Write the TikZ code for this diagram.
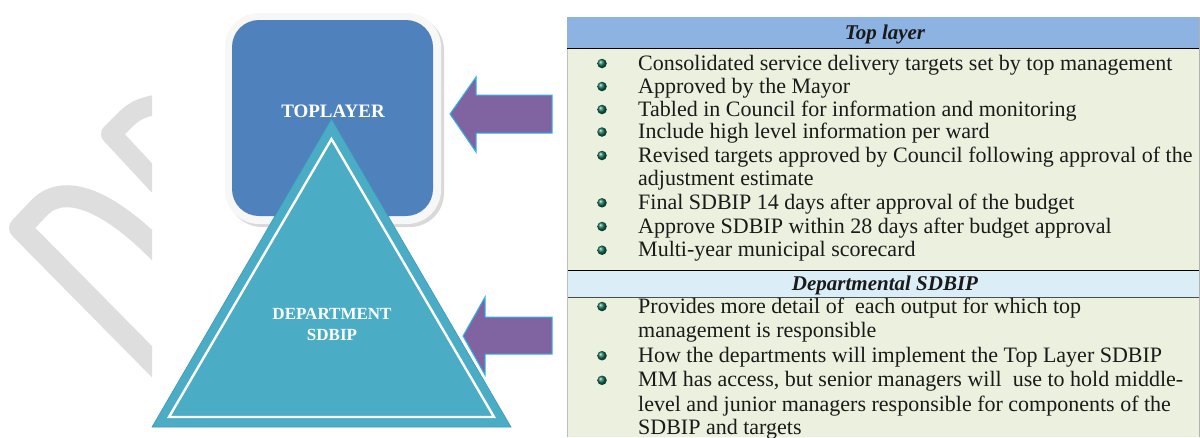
\documentclass[tikz,border=0pt]{standalone}
\usepackage{fontspec}
\setmainfont{Liberation Serif}
\definecolor{topblue}{HTML}{4F81BD}
\definecolor{tealc}{HTML}{4BACC6}
\definecolor{tealdark}{HTML}{3E9AB3}
\definecolor{arrpurple}{HTML}{8064A2}
\definecolor{arrblue}{HTML}{2FB4F2}
\definecolor{hdrblue}{HTML}{8DB3E2}
\definecolor{bodygreen}{HTML}{EBF1DE}
\definecolor{hdrtwo}{HTML}{DBEEF8}
\definecolor{bulgreen}{HTML}{136E55}
\definecolor{wmgray}{HTML}{DEDEDE}
\definecolor{txtc}{HTML}{1A1A1A}
\begin{document}
\begin{tikzpicture}[x=1pt,y=-1pt,
  txt/.style={anchor=base west,inner sep=0pt,text=txtc,font=\fontsize{22}{26}\selectfont},
  hdr/.style={anchor=base,inner sep=0pt,text=txtc,font=\fontsize{21}{25}\selectfont\bfseries\itshape},
  bul/.style={circle,inner sep=0pt,minimum size=9.5pt,ball color=bulgreen},
  arrowshape/.style={fill=arrpurple,draw=arrblue,line width=1pt,line join=miter},
  wm/.style={draw=wmgray,line join=round,line cap=butt},
  shapetxt/.style={text=white,anchor=base,inner sep=0pt}]
\useasboundingbox (0,0) rectangle (1200,437);
\fill[white] (0,0) rectangle (1200,437);

% watermark
\begin{scope}
\clip (0,0) rectangle (152,437);
\draw[wm,line width=22pt] (170,380) -- (20,228) -- (40,207) .. controls (60,187) and (100,190) .. (165,258);
\draw[wm,line width=20pt] (165,192) -- (111,134) -- (126,119) .. controls (135,110) and (145,106) .. (162,104);
\end{scope}

% top layer box
\fill[gray!30, rounded corners=34pt] (228,16) rectangle (444,227);
\fill[gray!6, rounded corners=34pt] (225,13) rectangle (441,224);
\node[fill=topblue, rounded corners=27pt, minimum width=201pt, minimum height=196pt, inner sep=0pt] (top) at (332.5,118) {};
\node[shapetxt,font=\fontsize{19}{22}\selectfont\bfseries] (toptxt) at (333,117) {TOPLAYER};

% triangle
\coordinate (apex) at (331.5,119);
\coordinate (bl) at (152,427);
\coordinate (br) at (511,427);
\fill[tealc,draw=tealdark,line width=0.6pt] (apex) -- (br) -- (bl) -- cycle;
\coordinate (iapex) at (331.5,139);
\coordinate (ibl) at (169,417);
\coordinate (ibr) at (494,417);
\draw[white,line width=2.4pt,line join=miter] (iapex) -- (ibr) -- (ibl) -- cycle;
\node[shapetxt,font=\fontsize{17}{20}\selectfont\bfseries] (dep1) at (332,319) {DEPARTMENT};
\node[shapetxt,font=\fontsize{17}{20}\selectfont\bfseries] (dep2) at (332,340.5) {SDBIP};

% arrows
\draw[arrowshape] (450,114) -- (476,77) -- (476,95) -- (552,95) -- (552,133) -- (476,133) -- (476,152) -- cycle;
\draw[arrowshape] (463,336) -- (485,297) -- (485,317) -- (552,317) -- (552,354) -- (485,354) -- (485,375) -- cycle;

% table
\fill[hdrblue] (567,17) rectangle (1200,48);
\fill[bodygreen] (567,49) rectangle (1200,270);
\fill[hdrtwo] (567,271) rectangle (1200,297);
\fill[bodygreen] (567,297.4) rectangle (1200,437);
\draw[black,line width=1.5pt] (567,48.5) -- (1200,48.5);
\draw[black,line width=1.5pt] (567,270.5) -- (1200,270.5);
\draw[gray!60!black,line width=0.8pt] (567,297) -- (1200,297);
\draw[gray!50,line width=0.6pt] (567.3,49) -- (567.3,437);
\draw[gray!60,line width=0.8pt] (1199.6,17) -- (1199.6,437);

\node[hdr] (h1) at (885,39) {Top layer};
\node[hdr] (h2) at (885,290) {Departmental SDBIP};

\foreach \y/\t [count=\i] in {
  70/Consolidated service delivery targets set by top management,
  93/Approved by the Mayor,
  116/Tabled in Council for information and monitoring,
  138.5/Include high level information per ward,
  162/Revised targets approved by Council following approval of the,
  209.3/Final SDBIP 14 days after approval of the budget,
  233/Approve SDBIP within 28 days after budget approval,
  256.7/Multi-year municipal scorecard}{
  \node[bul] (ba\i) at (602,\y-6.5) {};
  \node[txt] (ta\i) at (638,\y) {\t};
}
\node[txt] (ta5b) at (638,185.7) {adjustment estimate};

\foreach \y/\t [count=\i] in {
  313/Provides more detail of \ each output for which top,
  362.2/How the departments will implement the Top Layer SDBIP,
  386.8/MM has access{,} but senior managers will \ use to hold middle-}{
  \node[bul] (bb\i) at (602,\y-6.5) {};
  \node[txt] (tb\i) at (638,\y) {\t};
}
\node[txt] (tb1b) at (638,337.6) {management is responsible};
\node[txt] (tb3b) at (638,411.4) {level and junior managers responsible for components of the};
\node[txt] (tb3c) at (638,434) {SDBIP and targets};
\end{tikzpicture}
\end{document}
